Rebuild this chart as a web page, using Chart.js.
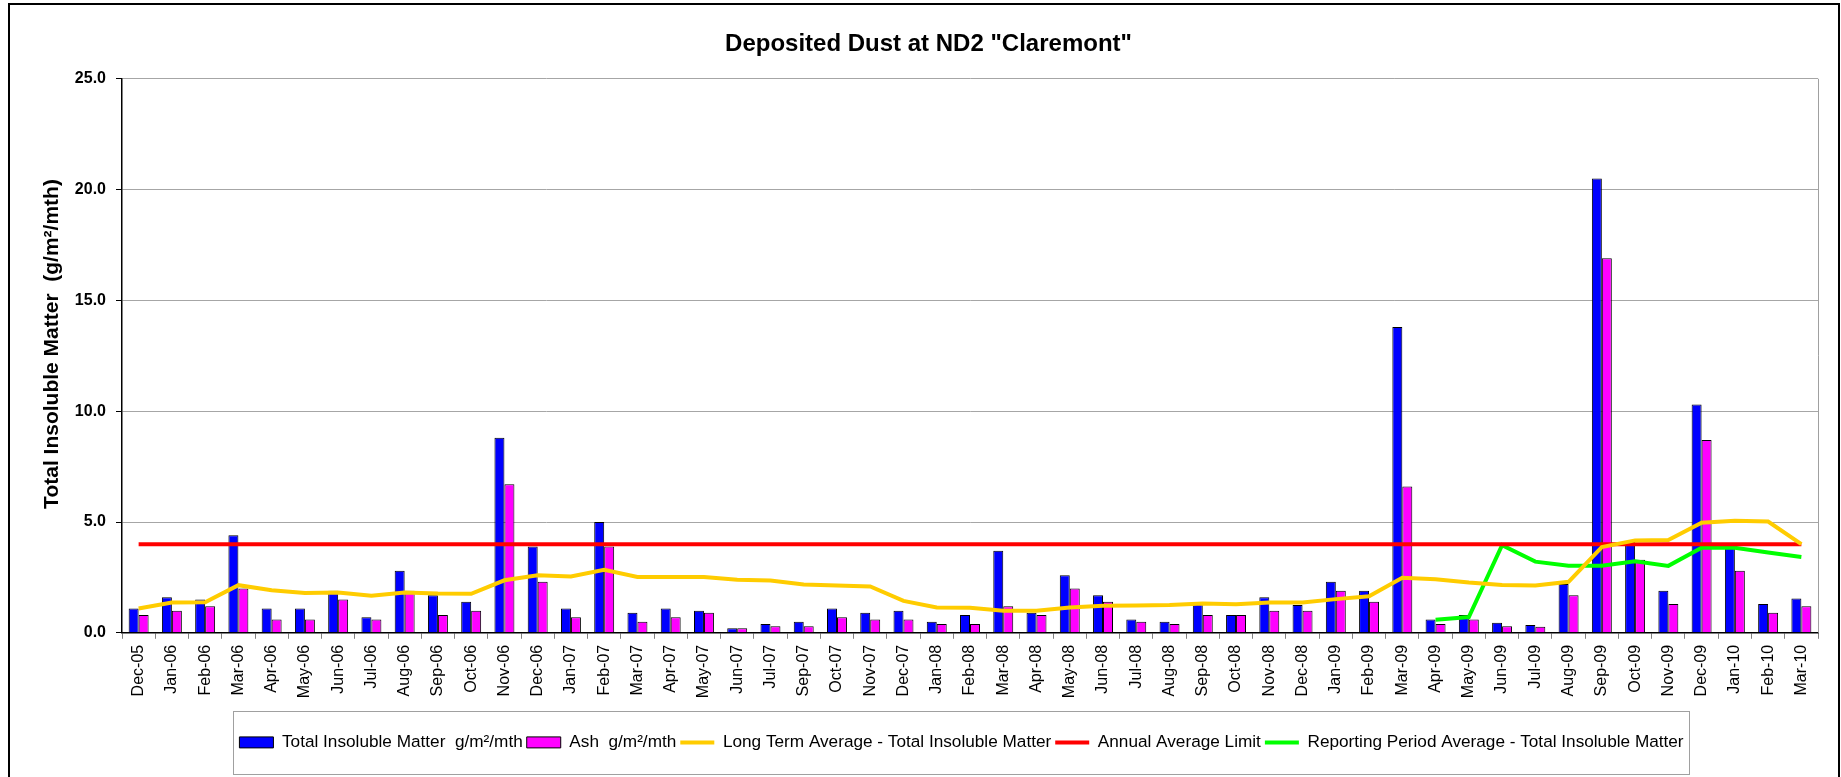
<html lang="en">

<head>
    <meta charset="UTF-8">
    <title>Deposited Dust at ND2 "Claremont"</title>
    <script src="https://cdn.jsdelivr.net/npm/chart.js@4.4.1/dist/chart.umd.min.js"></script>
    <style>
        body { margin: 0; background: #fff; }
        #wrap { width: 1841px; height: 777px; position: relative; }
    </style>
</head>

<body>
    <div id="wrap"><canvas id="dustChart"></canvas></div>
</body>

</html>

<script>
    // Meses (no hay Aug-07 en la serie original)
    var months = ['Dec-05','Jan-06','Feb-06','Mar-06','Apr-06','May-06','Jun-06','Jul-06','Aug-06','Sep-06',
        'Oct-06','Nov-06','Dec-06','Jan-07','Feb-07','Mar-07','Apr-07','May-07','Jun-07','Jul-07',
        'Sep-07','Oct-07','Nov-07','Dec-07','Jan-08','Feb-08','Mar-08','Apr-08','May-08','Jun-08',
        'Jul-08','Aug-08','Sep-08','Oct-08','Nov-08','Dec-08','Jan-09','Feb-09','Mar-09','Apr-09',
        'May-09','Jun-09','Jul-09','Aug-09','Sep-09','Oct-09','Nov-09','Dec-09','Jan-10','Feb-10','Mar-10'];

    // g/m2/mth
    var totalInsoluble = [1.1,1.6,1.5,4.4,1.1,1.1,1.9,0.7,2.8,1.7,
        1.4,8.8,3.9,1.1,5.0,0.9,1.1,1.0,0.2,0.4,
        0.5,1.1,0.9,1.0,0.5,0.8,3.7,0.9,2.6,1.7,
        0.6,0.5,1.35,0.8,1.6,1.25,2.3,1.9,13.8,0.6,
        0.8,0.45,0.35,2.2,20.5,4.1,1.9,10.3,3.9,1.3,1.55];

    var ash = [0.8,1.0,1.2,2.0,0.6,0.6,1.5,0.6,1.9,0.8,
        1.0,6.7,2.3,0.7,3.9,0.5,0.7,0.9,0.2,0.3,
        0.3,0.7,0.6,0.6,0.4,0.4,1.2,0.8,2.0,1.4,
        0.5,0.4,0.8,0.8,1.0,1.0,1.9,1.4,6.6,0.4,
        0.6,0.3,0.27,1.7,16.9,3.3,1.3,8.7,2.8,0.9,1.2];

    var longTermAvg = [1.10,1.37,1.38,2.15,1.92,1.80,1.82,1.67,1.82,1.77,
        1.76,2.37,2.60,2.54,2.84,2.52,2.52,2.52,2.39,2.36,
        2.18,2.13,2.09,1.44,1.14,1.13,0.99,0.99,1.14,1.22,
        1.23,1.25,1.32,1.29,1.37,1.37,1.52,1.65,2.48,2.42,
        2.27,2.16,2.13,2.30,3.87,4.17,4.19,4.97,5.06,5.02,4.00];

    var annualLimit = [4,4,4,4,4,4,4,4,4,4, 4,4,4,4,4,4,4,4,4,4,
        4,4,4,4,4,4,4,4,4,4, 4,4,4,4,4,4,4,4,4,4,
        4,4,4,4,4,4,4,4,4,4,4];

    // periodo de reporte (solo abr-09 en adelante)
    var periodMonths = ['Apr-09','May-09','Jun-09','Jul-09','Aug-09','Sep-09','Oct-09','Nov-09','Dec-09','Jan-10','Feb-10','Mar-10'];
    var periodAvg = [0.59,0.71,3.95,3.21,3.03,3.03,3.23,3.02,3.84,3.84,3.62,3.42];

    var yTicks = [0, 5, 10, 15, 20, 25];
    var yTitle = 'Total Insoluble Matter  (g/m²/mth)';

    Chart.defaults.font.family = "'Liberation Sans', Arial, sans-serif";
    Chart.defaults.color = '#000';

    // marco exterior, titulo del eje Y, borde derecho y recuadro de la leyenda
    var framePlugin = {
        id: 'frame',
        afterLayout: function (chart) {
            // la leyenda del original esta un poco a la derecha
            var lg = chart.legend;
            lg.left += 33;
            lg.right += 33;
        },
        beforeDraw: function (chart) {
            var c = chart.ctx;
            c.save();
            c.fillStyle = '#fff';
            c.fillRect(0, 0, chart.width, chart.height);
            c.restore();
        },
        afterDraw: function (chart) {
            var c = chart.ctx, a = chart.chartArea;
            c.save();
            c.strokeStyle = '#a0a0a0';
            c.lineWidth = 1;
            c.beginPath();
            c.moveTo(a.right + 0.5, a.top);
            c.lineTo(a.right + 0.5, a.bottom);
            c.stroke();

            var hb = chart.legend.legendHitBoxes;
            if (hb && hb.length) {
                var l = hb[0].left, r = 0, t = hb[0].top, b = hb[0].top + hb[0].height;
                hb.forEach(function (h) {
                    l = Math.min(l, h.left);
                    r = Math.max(r, h.left + h.width);
                });
                c.strokeRect(Math.round(l - 6) + 0.5, Math.round(t - 23) + 0.5, Math.round(r - l + 12), Math.round(b - t + 46));
            }

            c.translate(52, 344);
            c.rotate(-Math.PI / 2);
            c.fillStyle = '#000';
            c.font = "bold 21px 'Liberation Sans', Arial, sans-serif";
            c.textAlign = 'center';
            c.textBaseline = 'middle';
            c.fillText(yTitle, 0, 0);
            c.setTransform(1, 0, 0, 1, 0, 0);

            c.strokeStyle = '#000';
            c.lineWidth = 2;
            c.strokeRect(9, 4, 1830, 800);
            c.restore();
        }
    };

    var ctx = document.getElementById('dustChart').getContext('2d');
    var dustChart = new Chart(ctx, {
        type: 'bar',
        data: {
            labels: months,
            datasets: [
                {
                    label: 'Total Insoluble Matter  g/m²/mth',
                    data: totalInsoluble,
                    backgroundColor: '#0000ff',
                    borderColor: '#000',
                    borderWidth: 1,
                    order: 2
                },
                {
                    label: 'Ash  g/m²/mth',
                    data: ash,
                    backgroundColor: '#ff00ff',
                    borderColor: '#000',
                    borderWidth: 1,
                    order: 2
                },
                {
                    type: 'line',
                    label: 'Long Term Average - Total Insoluble Matter',
                    data: longTermAvg,
                    borderColor: '#ffcc00',
                    backgroundColor: '#ffcc00',
                    borderWidth: 4,
                    pointRadius: 0,
                    order: 1
                },
                {
                    type: 'line',
                    label: 'Annual Average Limit',
                    data: annualLimit,
                    borderColor: '#ff0000',
                    backgroundColor: '#ff0000',
                    borderWidth: 4,
                    pointRadius: 0,
                    order: 1
                },
                {
                    type: 'line',
                    label: 'Reporting Period Average - Total Insoluble Matter',
                    data: periodMonths.map(function (m, i) { return {x: m, y: periodAvg[i]}; }),
                    borderColor: '#00ff00',
                    backgroundColor: '#00ff00',
                    borderWidth: 4,
                    pointRadius: 0,
                    order: 1
                }
            ]
        },
        options: {
            responsive: true,
            maintainAspectRatio: false,
            animation: false,
            devicePixelRatio: 1,
            layout: { padding: { left: 39, right: 23, top: 0, bottom: 16 } },
            datasets: {
                bar: { categoryPercentage: 0.6, barPercentage: 1.0 }
            },
            plugins: {
                tooltip: { enabled: false },
                title: {
                    display: true,
                    text: 'Deposited Dust at ND2 "Claremont"',
                    font: { size: 24, weight: 'bold' },
                    padding: { top: 30, bottom: 20 }
                },
                legend: {
                    position: 'bottom',
                    labels: {
                        font: { size: 17.2 },
                        usePointStyle: true,
                        pointStyleWidth: 34,
                        boxHeight: 11,
                        padding: 4,
                        sort: function (a, b) { return a.datasetIndex - b.datasetIndex; },
                        generateLabels: function (chart) {
                            var items = Chart.defaults.plugins.legend.labels.generateLabels(chart);
                            return items.map(function (it) {
                                var ds = chart.data.datasets[it.datasetIndex];
                                if (ds.type === 'line') {
                                    it.pointStyle = 'line';
                                    it.strokeStyle = ds.borderColor;
                                    it.lineWidth = 4;
                                } else {
                                    it.pointStyle = 'rect';
                                    it.lineWidth = 1;
                                }
                                return it;
                            });
                        }
                    }
                }
            },
            scales: {
                x: {
                    afterFit: function (s) { s.height = 97; },
                    grid: { display: true, drawOnChartArea: false, tickLength: 6, color: '#808080' },
                    border: { color: '#000', width: 1.5 },
                    ticks: {
                        autoSkip: false,
                        minRotation: 90,
                        maxRotation: 90,
                        padding: 6,
                        font: { size: 16 }
                    }
                },
                y: {
                    min: 0,
                    max: 25,
                    afterFit: function (s) { s.width = 83; },
                    afterBuildTicks: function (s) { s.ticks = yTicks.map(function (v) { return {value: v}; }); },
                    grid: { color: '#a6a6a6', tickLength: 6, tickColor: '#000' },
                    border: { color: '#000', width: 1.5 },
                    ticks: {
                        padding: 10,
                        font: { size: 16, weight: 'bold' },
                        callback: function (v) { return Number(v).toFixed(1); }
                    }
                }
            }
        },
        plugins: [framePlugin]
    });
</script>
